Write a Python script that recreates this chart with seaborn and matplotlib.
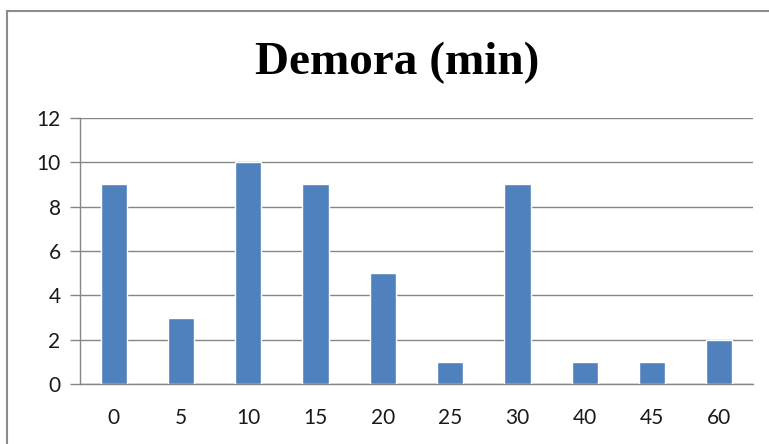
import matplotlib
matplotlib.use("Agg")
import matplotlib.pyplot as plt
from matplotlib.patches import Rectangle
import seaborn as sns
import pandas as pd

# Delay distribution (minutes) and how many cases fall in each
categories = ["0", "5", "10", "15", "20", "25", "30", "40", "45", "60"]
counts = [9, 3, 10, 9, 5, 1, 9, 1, 1, 2]
y_ticks = [0, 2, 4, 6, 8, 10, 12]

sns.set_theme(style="white")
plt.rcParams["font.family"] = ["Lato", "DejaVu Sans"]

df = pd.DataFrame({"demora": categories, "n": counts})

fig = plt.figure(figsize=(7.69, 4.44), dpi=100)
ax = fig.add_axes([80 / 769, 60 / 444, (753 - 80) / 769, (384 - 118) / 444])

sns.barplot(data=df, x="demora", y="n", order=categories, color="#4F81BD",
            saturation=1, width=0.39, ax=ax, zorder=3)

grid_c = "#868686"
ax.set_ylim(0, 12)
ax.set_xlim(-0.5, len(categories) - 0.5)
ax.set_yticks(y_ticks)
ax.set_yticklabels([str(v) for v in y_ticks])
ax.yaxis.grid(True, color=grid_c, linewidth=1.0, zorder=0)
ax.xaxis.grid(False)
ax.set_xlabel("")
ax.set_ylabel("")

for side in ("top", "right"):
    ax.spines[side].set_visible(False)
for side in ("left", "bottom"):
    ax.spines[side].set_color(grid_c)
    ax.spines[side].set_linewidth(1.0)

# category boundaries carry the tick marks, labels sit under the bars
ax.set_xticks([i - 0.5 for i in range(len(categories) + 1)], minor=True)
ax.tick_params(axis="x", which="minor", length=7, width=1, color=grid_c, direction="out")
ax.tick_params(axis="x", which="major", length=0, pad=17, labelsize=15, labelcolor="#1a1a1a")
ax.tick_params(axis="y", which="major", length=7, width=1, color=grid_c, direction="out",
               left=True, pad=7, labelsize=15, labelcolor="#1a1a1a")

fig.text(397 / 769, 1 - 63 / 444, "Demora (min)", ha="center", va="center",
         fontsize=34, fontweight="bold", family=["Liberation Serif", "DejaVu Serif"],
         color="black")

# chart-area frame
fig.patches.append(Rectangle((7 / 769, -0.05), 1.0, 1 - 11 / 444 + 0.05,
                             transform=fig.transFigure, fill=False,
                             edgecolor="#8c8c8c", linewidth=1.5))

fig.savefig("out.png", dpi=100)
